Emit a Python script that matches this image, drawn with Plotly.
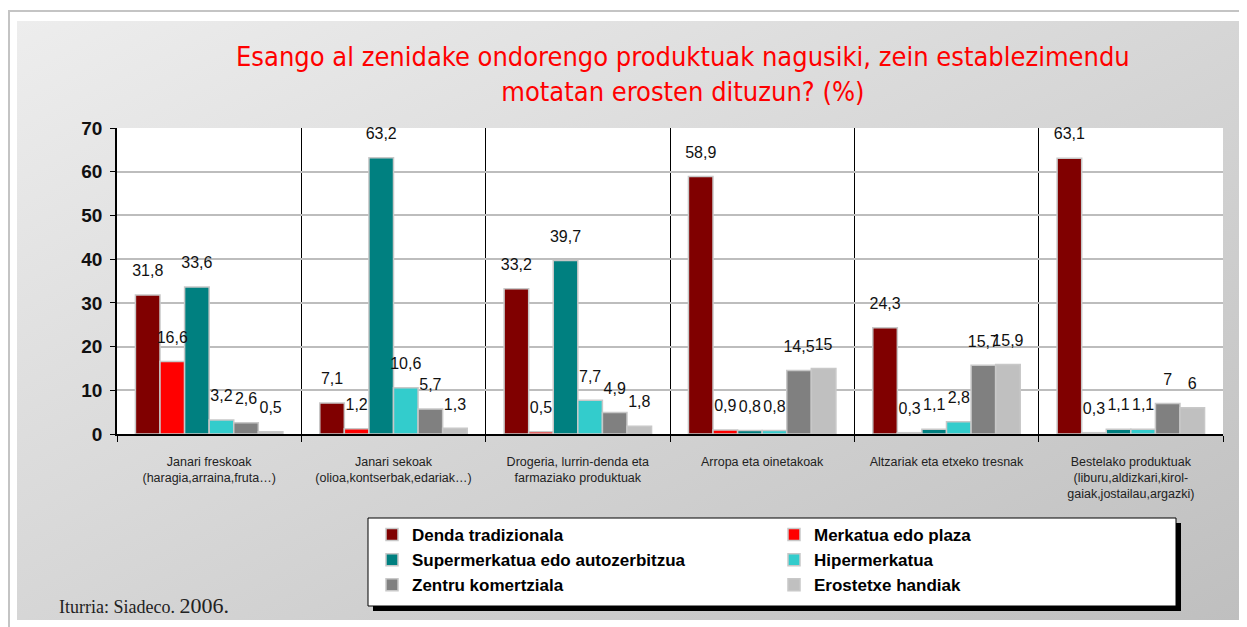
import base64
import plotly.graph_objects as go

# ---------------- data ----------------
categories = [
    "Janari freskoak<br>(haragia,arraina,fruta…)",
    "Janari sekoak<br>(olioa,kontserbak,edariak…)",
    "Drogeria, lurrin-denda eta<br>farmaziako produktuak",
    "Arropa eta oinetakoak",
    "Altzariak eta etxeko tresnak",
    "Bestelako produktuak<br>(liburu,aldizkari,kirol-<br>gaiak,jostailau,argazki)",
]
series_names = [
    "Denda tradizionala",
    "Merkatua edo plaza",
    "Supermerkatua edo autozerbitzua",
    "Hipermerkatua",
    "Zentru komertziala",
    "Erostetxe handiak",
]
denda_tradizionala = [31.8, 7.1, 33.2, 58.9, 24.3, 63.1]
merkatua_edo_plaza = [16.6, 1.2, 0.5, 0.9, 0.3, 0.3]
supermerkatua = [33.6, 63.2, 39.7, 0.8, 1.1, 1.1]
hipermerkatua = [3.2, 10.6, 7.7, 0.8, 2.8, 1.1]
zentru_komertziala = [2.6, 5.7, 4.9, 14.5, 15.7, 7]
erostetxe_handiak = [0.5, 1.3, 1.8, 15, 15.9, 6]
series_values = [denda_tradizionala, merkatua_edo_plaza, supermerkatua,
                 hipermerkatua, zentru_komertziala, erostetxe_handiak]
series_colors = ["#800000", "#FF0000", "#008080", "#33CCCC", "#808080", "#C0C0C0"]
y_ticks = [0, 10, 20, 30, 40, 50, 60, 70]

title_text = ("Esango al zenidake ondorengo produktuak nagusiki, zein establezimendu"
              "<br>motatan erosten dituzun? (%)")
source_text = "Iturria: Siadeco. <span style='font-size:22px'>2006.</span>"

# ---------------- layout geometry (pixels) ----------------
OFF = 8  # page body margin
W, H = 1247 - OFF, 627 - OFF
ML, MR = 117 - OFF, 24
MT = 128 - OFF
MB = H - (434 - OFF)
PW = W - ML - MR
PH = H - MT - MB


def px_x(sx):
    return (sx - OFF - ML) / PW


def px_y(sy):
    return (H - MB - (sy - OFF)) / PH


def fmt(v):
    return f"{v:g}".replace(".", ",")


SANS = "Liberation Sans, Arial, sans-serif"

fig = go.Figure()

for name, vals, col in zip(series_names, series_values, series_colors):
    fig.add_trace(go.Bar(
        name=name, x=categories, y=vals,
        marker=dict(color=col, line=dict(color="#c8c8c8", width=1.5)),
        hoverinfo="skip",
    ))

for name, vals in zip(series_names, series_values):
    fig.add_trace(go.Scatter(
        x=categories, y=vals, mode="markers+text",
        text=[fmt(v) for v in vals], textposition="top center",
        textfont=dict(family=SANS, size=16, color="#111111"),
        marker=dict(size=22, opacity=0), showlegend=False,
        cliponaxis=False, hoverinfo="skip",
    ))

# gradient background panel as an SVG image
svg = ('<svg xmlns="http://www.w3.org/2000/svg" width="200" height="100" '
       'viewBox="0 0 200 100" preserveAspectRatio="none">'
       '<defs><linearGradient id="g" x1="0" y1="0" x2="1" y2="1">'
       '<stop offset="0" stop-color="#ededed"/>'
       '<stop offset="1" stop-color="#bfbfbf"/></linearGradient></defs>'
       '<rect width="200" height="100" fill="url(#g)"/></svg>')
src = "data:image/svg+xml;base64," + base64.b64encode(svg.encode()).decode()

fig.update_layout(
    images=[dict(source=src, xref="paper", yref="paper",
                 x=px_x(17), y=px_y(21),
                 sizex=px_x(1241) - px_x(17), sizey=px_y(21) - px_y(620),
                 xanchor="left", yanchor="top", sizing="stretch", layer="below")],
)

shapes = [
    # outer frame lines
    dict(type="line", xref="paper", yref="paper", x0=px_x(8), x1=px_x(1247),
         y0=px_y(11), y1=px_y(11), line=dict(color="#c4c4c4", width=2), layer="below"),
    dict(type="line", xref="paper", yref="paper", x0=px_x(9), x1=px_x(9),
         y0=px_y(11), y1=px_y(627), line=dict(color="#c4c4c4", width=2), layer="below"),
    # white plot area
    dict(type="rect", xref="paper", yref="paper", x0=0, x1=1, y0=0, y1=1,
         fillcolor="white", line=dict(width=0), layer="below"),
    # legend shadow and box
    dict(type="rect", xref="paper", yref="paper", x0=px_x(373), x1=px_x(1181),
         y0=px_y(611), y1=px_y(523), fillcolor="black", line=dict(width=0), layer="below"),
    dict(type="rect", xref="paper", yref="paper", x0=px_x(368), x1=px_x(1176),
         y0=px_y(606), y1=px_y(518), fillcolor="white",
         line=dict(color="black", width=1), layer="below"),
]

fig.update_layout(
    width=W, height=H,
    margin=dict(l=ML, r=MR, t=MT, b=MB, autoexpand=False),
    paper_bgcolor="white", plot_bgcolor="white",
    barmode="group", bargap=0.2, bargroupgap=0.0,
    scattermode="group", scattergap=0.2,
    shapes=shapes,
    showlegend=True,
    legend=dict(
        orientation="h", x=px_x(372), y=px_y(517), xanchor="left", yanchor="top",
        entrywidth=357, entrywidthmode="pixels", itemwidth=30,
        bgcolor="rgba(0,0,0,0)", borderwidth=0, traceorder="normal",
        font=dict(family=SANS, size=17, color="#000000", weight="bold"),
    ),
    xaxis=dict(
        type="category", tickson="boundaries", showgrid=True,
        gridcolor="#000000", gridwidth=1,
        ticks="outside", ticklen=6, tickcolor="#000000", tickwidth=1,
        showline=True, linecolor="#000000", linewidth=1.5,
        tickfont=dict(family=SANS, size=12.5, color="#222222"),
        ticklabelstandoff=15, fixedrange=True,
    ),
    yaxis=dict(
        range=[0, 70], tickvals=y_ticks, showgrid=True,
        gridcolor="#bdbdbd", gridwidth=1.5, zeroline=False,
        ticks="outside", ticklen=5, tickcolor="#000000",
        showline=True, linecolor="#000000", linewidth=1.5,
        tickfont=dict(family=SANS, size=19, color="#111111", weight="bold"),
        ticklabelstandoff=4, fixedrange=True,
    ),
    annotations=[
        dict(text=title_text, xref="paper", yref="paper",
             x=px_x(683), y=px_y(74), xanchor="center", yanchor="middle",
             showarrow=False, align="center",
             font=dict(family="DejaVu Sans Condensed, Liberation Sans Narrow, Arial Narrow, sans-serif",
                       size=27, color="#FF0000")),
        dict(text=source_text, xref="paper", yref="paper",
             x=px_x(57), y=px_y(605), xanchor="left", yanchor="middle",
             showarrow=False,
             font=dict(family="Liberation Serif, Times New Roman, serif",
                       size=18, color="#222222")),
    ],
)

fig.write_html("out.html")
